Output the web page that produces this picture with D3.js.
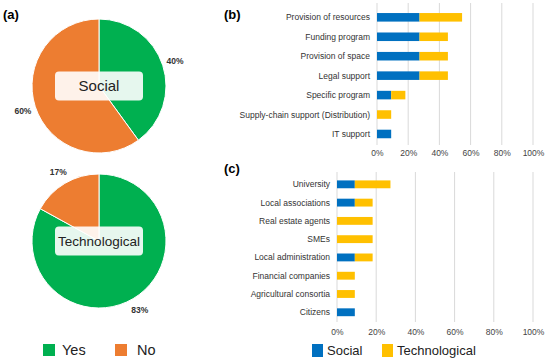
<!DOCTYPE html>
<html>
<head>
<meta charset="utf-8">
<script src="https://cdn.jsdelivr.net/npm/d3@7"></script>
<style>
  body { margin: 0; background: #fff; }
  svg { font-family: "Liberation Sans", Arial, sans-serif; }
</style>
</head>
<body>
<div id="chart"></div>
<script>
// data
var pieNames = ['Social', 'Technological'];
var pieLabels = ['Yes', 'No'];
var socialPie = [40, 60];
var techPie = [83, 17];

var supportCats = ['Provision of resources', 'Funding program', 'Provision of space', 'Legal support',
  'Specific program', 'Supply-chain support (Distribution)', 'IT support'];
var supportSocial = [27.27, 27.27, 27.27, 27.27, 9.09, 0, 9.09];
var supportTech = [27.27, 18.18, 18.18, 18.18, 9.09, 9.09, 0];

var actorCats = ['University', 'Local associations', 'Real estate agents', 'SMEs',
  'Local administration', 'Financial companies', 'Agricultural  consortia', 'Citizens'];
var actorSocial = [9.09, 9.09, 0, 0, 9.09, 0, 0, 9.09];
var actorTech = [18.18, 9.09, 18.18, 18.18, 9.09, 9.09, 9.09, 0];

var ticks = [0, 20, 40, 60, 80, 100];
var seriesNames = ['Social', 'Technological'];

var W = 550, H = 362;
var pieColors = { Yes: '#00b050', No: '#ed7d31' };
var barColors = { Social: '#0070c0', Technological: '#ffc000' };

var svg = d3.select('#chart').append('svg')
    .attr('width', W)
    .attr('height', H);

// panel letters
svg.append('text').attr('x', 3).attr('y', 19).text('(a)')
  .style('font-size', '13px').style('font-weight', 'bold');
svg.append('text').attr('x', 224).attr('y', 19).text('(b)')
  .style('font-size', '13px').style('font-weight', 'bold');
svg.append('text').attr('x', 224).attr('y', 173).text('(c)')
  .style('font-size', '13px').style('font-weight', 'bold');

// pies
var pie = d3.pie().sort(null).value(function(d) { return d.v; });
var arc = d3.arc().innerRadius(0).outerRadius(67);
var labelArc = d3.arc().innerRadius(80).outerRadius(80);

function drawPie(cy, values, name, fs) {
  var data = pieLabels.map(function(l, i) { return { k: l, v: values[i] }; });
  var g = svg.append('g').attr('transform', 'translate(99,' + cy + ')');
  var arcs = pie(data);
  g.selectAll('path').data(arcs).enter().append('path')
    .attr('d', arc)
    .attr('fill', function(d) { return pieColors[d.data.k]; })
    .attr('stroke', '#fff')
    .attr('stroke-width', 1);
  g.selectAll('text.pct').data(arcs).enter().append('text')
    .attr('class', 'pct')
    .attr('transform', function(d) { return 'translate(' + labelArc.centroid(d) + ')'; })
    .attr('text-anchor', 'middle')
    .attr('dy', '0.35em')
    .style('font-size', '8.5px')
    .style('font-weight', 'bold')
    .style('fill', '#333')
    .text(function(d) { return d.data.v + '%'; });
  g.append('rect')
    .attr('x', -44).attr('y', -14.5)
    .attr('width', 88).attr('height', 29)
    .attr('rx', 4)
    .attr('fill', '#fff')
    .attr('fill-opacity', 0.9);
  g.append('text')
    .attr('x', 0).attr('y', 0)
    .attr('dy', '0.35em')
    .attr('text-anchor', 'middle')
    .style('font-size', fs)
    .style('fill', '#222')
    .text(name);
}
drawPie(86, socialPie, pieNames[0], '15px');
drawPie(241, techPie, pieNames[1], '13.5px');

// pie legend
var pl = svg.append('g');
pieLabels.forEach(function(l, i) {
  var x0 = 43 + i * 72;
  pl.append('rect').attr('x', x0).attr('y', 344).attr('width', 12).attr('height', 12)
    .attr('fill', pieColors[l]);
  pl.append('text').attr('x', x0 + 19 + i * 3).attr('y', 350).attr('dy', '0.35em')
    .style('font-size', '14.5px').style('fill', '#222').text(l);
});

// stacked bar panels
function drawBars(opt) {
  var x = d3.scaleLinear().domain([0, 100]).range([opt.x0, opt.x1]);
  var y = d3.scaleBand().domain(opt.cats).range([opt.y0, opt.y1])
    .paddingInner(opt.pad).paddingOuter(opt.pad / 2);
  var g = svg.append('g');

  g.selectAll('line.grid').data(ticks).enter().append('line')
    .attr('x1', function(d) { return x(d); })
    .attr('x2', function(d) { return x(d); })
    .attr('y1', opt.gy0).attr('y2', opt.gy1)
    .attr('stroke', '#d9d9d9').attr('stroke-width', 1);

  var rows = opt.cats.map(function(c, i) {
    return { cat: c, Social: opt.social[i], Technological: opt.tech[i] };
  });
  var stack = d3.stack().keys(seriesNames)(rows);
  g.selectAll('g.layer').data(stack).enter().append('g')
    .attr('fill', function(d) { return barColors[d.key]; })
    .selectAll('rect').data(function(d) { return d; }).enter().append('rect')
    .attr('x', function(d) { return x(d[0]); })
    .attr('width', function(d) { return x(d[1]) - x(d[0]); })
    .attr('y', function(d) { return y(d.data.cat); })
    .attr('height', y.bandwidth());

  g.selectAll('text.cat').data(opt.cats).enter().append('text')
    .attr('class', 'cat')
    .attr('x', opt.x0 - 7)
    .attr('y', function(d) { return y(d) + y.bandwidth() / 2; })
    .attr('dy', '0.35em')
    .attr('text-anchor', 'end')
    .style('font-size', '8.5px')
    .style('fill', '#333')
    .text(function(d) { return d; });

  var ax = g.append('g')
    .attr('transform', 'translate(0,' + opt.ty + ')')
    .call(d3.axisBottom(x).tickValues(ticks).tickSize(0).tickFormat(function(d) { return d + '%'; }));
  ax.select('.domain').remove();
  ax.selectAll('text')
    .style('font-size', '8.5px')
    .style('fill', '#444')
    .style('font-family', '"Liberation Sans", Arial, sans-serif');
}

drawBars({ cats: supportCats, social: supportSocial, tech: supportTech, pad: 0.56,
  x0: 377, x1: 533, y0: 7.6, y1: 143.7, gy0: 3, gy1: 145, ty: 147 });
drawBars({ cats: actorCats, social: actorSocial, tech: actorTech, pad: 0.57,
  x0: 337, x1: 533, y0: 175.2, y1: 321.4, gy0: 172, gy1: 322, ty: 326 });

// bar legend
var bl = svg.append('g');
seriesNames.forEach(function(s, i) {
  var x0 = 312 + i * 70;
  bl.append('rect').attr('x', x0).attr('y', 344).attr('width', 11).attr('height', 13)
    .attr('fill', barColors[s]);
  bl.append('text').attr('x', x0 + 15).attr('y', 350.5).attr('dy', '0.35em')
    .style('font-size', '13px').style('fill', '#222').text(s);
});
</script>
</body>
</html>
